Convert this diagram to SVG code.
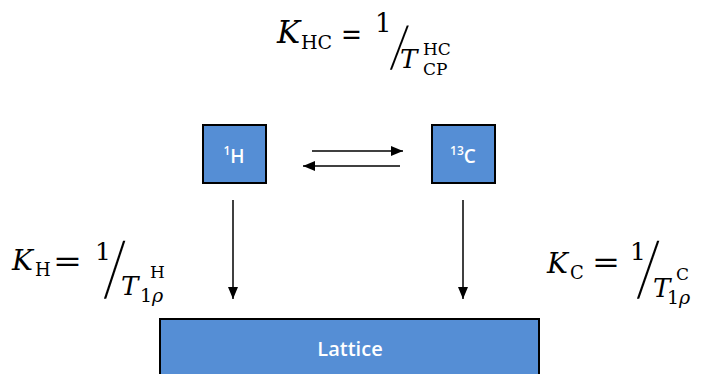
<svg xmlns="http://www.w3.org/2000/svg" width="708" height="374" viewBox="0 0 708 374">
<style>
.box{fill:#558ED5;stroke:#000;stroke-width:2}
.lbl{font-family:"Open Sans","Noto Sans",sans-serif;font-weight:600;fill:#fff}
.m{font-family:"DejaVu Serif",serif;fill:#000}
.s{font-family:"Liberation Serif",serif;fill:#000}
.i{font-style:italic}
.c{stroke:#000;stroke-width:1.5;fill:none;marker-end:url(#ah)}
</style>
<defs>
<marker id="ah" markerUnits="userSpaceOnUse" markerWidth="13" markerHeight="11" refX="12" refY="5" orient="auto">
<path d="M0,0 L12,5 L0,10 z" fill="#000"/>
</marker>
</defs>
<g id="eq-hc" class="m">
<text x="277" y="43" font-size="31" class="i">K</text>
<text x="301" y="49" font-size="19">HC</text>
<text x="341" y="44" font-size="30" textLength="21" lengthAdjust="spacingAndGlyphs">=</text>
<text x="375" y="32" font-size="26">1</text>
<text class="s" transform="translate(390,69) skewX(-9) scale(0.65,1)" font-size="66">/</text>
<text x="400" y="68" font-size="26" class="i">T</text>
<text x="423" y="55" font-size="17">HC</text>
<text x="423" y="75" font-size="17">CP</text>
</g>
<g id="eq-h" class="m">
<text x="12" y="270" font-size="28" class="i">K</text>
<text x="35" y="276" font-size="18">H</text>
<text x="53" y="271" font-size="30" textLength="29" lengthAdjust="spacingAndGlyphs">=</text>
<text x="95" y="260" font-size="25">1</text>
<text class="s" transform="translate(104,298) skewX(-8) scale(0.55,1)" font-size="87">/</text>
<text x="121" y="295" font-size="26" class="i">T</text>
<text x="150" y="278" font-size="17">H</text>
<text x="140" y="302" font-size="19">1<tspan class="i">ρ</tspan></text>
</g>
<g id="eq-c" class="m">
<text x="547" y="273" font-size="28" class="i">K</text>
<text x="570" y="279" font-size="18">C</text>
<text x="592" y="272" font-size="30" textLength="28" lengthAdjust="spacingAndGlyphs">=</text>
<text x="630" y="260" font-size="25">1</text>
<text class="s" transform="translate(637,298) skewX(-9) scale(0.55,1)" font-size="87">/</text>
<text x="653" y="297" font-size="26" class="i">T</text>
<text x="676" y="280" font-size="17">C</text>
<text x="667" y="304" font-size="19">1<tspan class="i">ρ</tspan></text>
</g>
<g id="node-h">
<rect class="box" x="203" y="125" width="63" height="58"/>
<text class="lbl" x="234" y="163" font-size="19" text-anchor="middle"><tspan font-size="12" dy="-8">1</tspan><tspan dy="8">H</tspan></text>
</g>
<g id="node-c">
<rect class="box" x="432" y="125" width="63" height="58"/>
<text class="lbl" x="463" y="163" font-size="19" text-anchor="middle"><tspan font-size="12" dy="-8">13</tspan><tspan dy="8">C</tspan></text>
</g>
<g id="node-lattice">
<rect class="box" x="160" y="319" width="379" height="70"/>
<text class="lbl" x="350" y="356" font-size="20" text-anchor="middle">Lattice</text>
</g>
<g id="connectors">
<line class="c" x1="312" y1="151" x2="403" y2="151"/>
<line class="c" x1="400" y1="166" x2="303" y2="166"/>
<line class="c" x1="233" y1="200" x2="233" y2="299"/>
<line class="c" x1="463" y1="200" x2="463" y2="299"/>
</g>
</svg>
